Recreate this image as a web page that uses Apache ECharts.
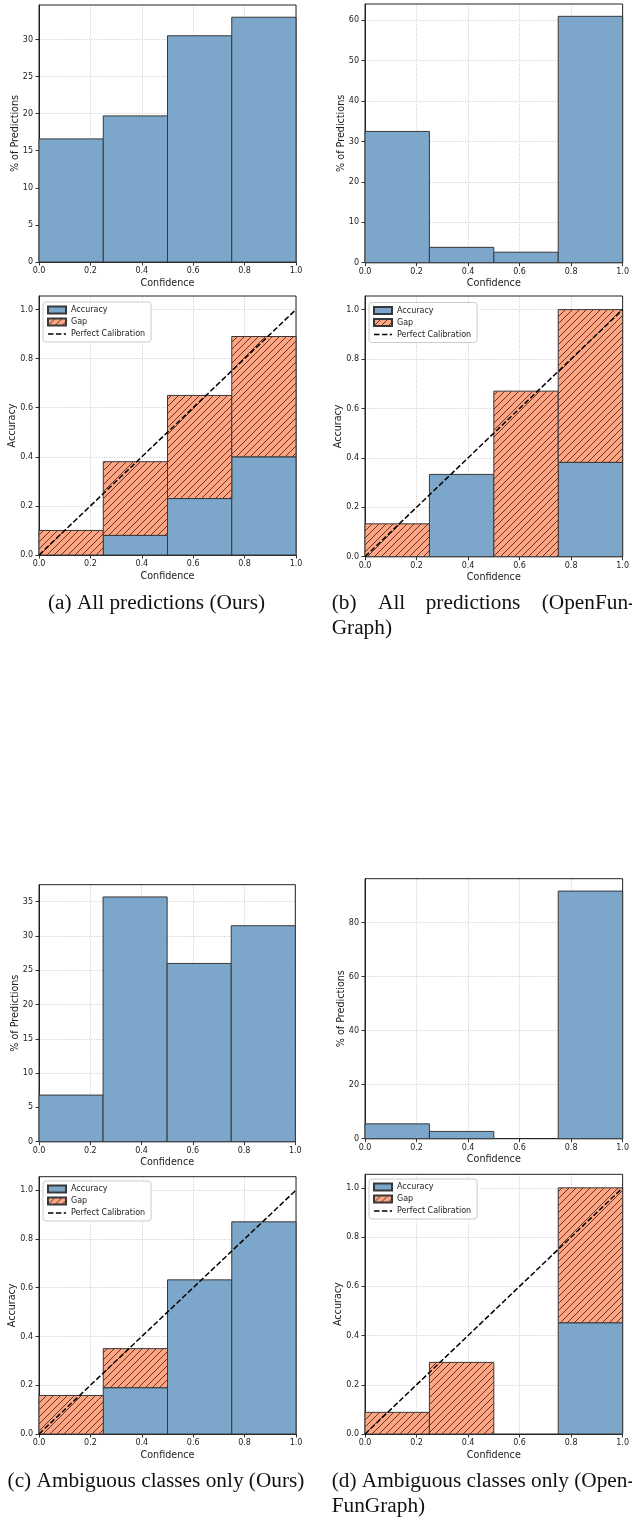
<!DOCTYPE html>
<html>
<head>
<meta charset="utf-8">
<script src="https://cdn.jsdelivr.net/npm/echarts@6/dist/echarts.min.js"></script>
<style>
html,body{margin:0;padding:0;background:#fff;}
#chart{width:632px;height:1517px;}
</style>
</head>
<body>
<div id="chart"></div>
<script>
// ---------- data ----------
const binEdges = [0, 0.25, 0.5, 0.75, 1.0];
const xTicks = [0, 0.2, 0.4, 0.6, 0.8, 1.0];

// % of predictions per confidence bin
const histOursAll = [16.6, 19.7, 30.5, 33.0];
const histOFGAll  = [32.5, 3.8, 2.6, 61.0];
const histOursAmb = [6.8, 35.7, 26.0, 31.5];
const histOFGAmb  = [5.5, 2.7, 0, 91.7];

// y tick values of the histograms
const histTicksOursAll = [0, 5, 10, 15, 20, 25, 30];
const histTicksOFGAll  = [0, 10, 20, 30, 40, 50, 60];
const histTicksOursAmb = [0, 5, 10, 15, 20, 25, 30, 35];
const histTicksOFGAmb  = [0, 20, 40, 60, 80];
const relTicks = [0, 0.2, 0.4, 0.6, 0.8, 1.0];

// reliability: accuracy and gap top (confidence) per bin
const accOursAll    = [0, 0.08, 0.23, 0.40];
const gapTopOursAll = [0.10, 0.38, 0.65, 0.89];
const accOFGAll     = [0, 0.333, 0, 0.382];
const gapTopOFGAll  = [0.133, null, 0.67, 1.0];
const accOursAmb    = [0, 0.19, 0.632, 0.87];
const gapTopOursAmb = [0.158, 0.35, null, null];
const accOFGAmb     = [0, 0, 0, 0.452];
const gapTopOFGAmb  = [0.088, 0.291, null, 1.0];

const diagonal = [[0, 0], [1, 1]];

const captions = {
  a: '(a) All predictions (Ours)',
  bWords: ['(b)', 'All', 'predictions', '(OpenFun-'],
  b2: 'Graph)',
  c: '(c) Ambiguous classes only (Ours)',
  d1: '(d) Ambiguous classes only (Open-',
  d2: 'FunGraph)'
};

// ---------- styles ----------
const BLUE = '#7DA7CA';
const EDGE = '#383838';
const TXT = '#222';
const FONT = 'DejaVu Sans';

function makeHatch() {
  const s = 7;
  const c = document.createElement('canvas');
  c.width = s; c.height = s;
  const ctx = c.getContext('2d');
  ctx.fillStyle = '#FFA584';
  ctx.fillRect(0, 0, s, s);
  ctx.strokeStyle = 'rgba(50,30,20,0.85)';
  ctx.lineWidth = 0.95;
  for (let k = -1; k <= 1; k++) {
    ctx.beginPath();
    ctx.moveTo(k * s, s);
    ctx.lineTo(k * s + s, 0);
    ctx.stroke();
  }
  return c;
}
const HATCH = { image: makeHatch(), repeat: 'repeat' };

// grid geometry [left, top, width, height]
const grids = [
  [39, 5, 257, 257],        // (a) hist
  [365, 4, 259, 258.7],     // (b) hist
  [39, 884.7, 256.3, 257],  // (c) hist
  [365, 878.7, 260, 260],   // (d) hist
  [39, 296, 257, 259],      // (a) rel
  [365, 296, 259, 260.7],   // (b) rel
  [39, 1176.7, 257, 257.3], // (c) rel
  [365, 1174.3, 260, 259.7] // (d) rel
];

const hists = [histOursAll, histOFGAll, histOursAmb, histOFGAmb];
const histTicks = [histTicksOursAll, histTicksOFGAll, histTicksOursAmb, histTicksOFGAmb];
const accs = [accOursAll, accOFGAll, accOursAmb, accOFGAmb];
const gapTops = [gapTopOursAll, gapTopOFGAll, gapTopOursAmb, gapTopOFGAmb];
const legendPos = [[43, 302], [369, 302.5], [43, 1181], [369, 1179]];

function rectRenderer(fill) {
  return function (params, api) {
    const p0 = api.coord([api.value(0), api.value(2)]);
    const p1 = api.coord([api.value(1), api.value(3)]);
    return {
      type: 'rect',
      shape: { x: p0[0], y: p1[1], width: p1[0] - p0[0], height: p0[1] - p1[1] },
      style: { fill: fill, stroke: EDGE, lineWidth: 1 }
    };
  };
}

const GRIDLINE = { show: true, lineStyle: { color: '#bdbdbd', type: [1, 1.5], width: 0.8 } };
const gridOpt = [], xAxes = [], yAxes = [], series = [], legends = [];

grids.forEach((g, i) => {
  gridOpt.push({ left: g[0], top: g[1], width: g[2], height: g[3], show: true,
    borderColor: '#222', borderWidth: 1, backgroundColor: 'transparent', z: 1 });
  xAxes.push({
    type: 'value', gridIndex: i, min: 0, max: 1, interval: 0.2,
    name: 'Confidence', nameLocation: 'middle', nameGap: 16, nameMoveOverlap: false,
    nameTextStyle: { fontSize: 9.6, fontFamily: FONT, color: TXT },
    axisLine: { show: true, lineStyle: { color: '#222', width: 1 } },
    axisTick: { show: true, length: 3.5, lineStyle: { color: '#333' }, customValues: xTicks },
    axisLabel: { fontSize: 8, fontFamily: FONT, color: TXT, margin: 5, customValues: xTicks,
      formatter: v => v.toFixed(1) },
    splitLine: GRIDLINE
  });
  const isHist = i < 4;
  const k = i % 4;
  let ymax, ticks, digits, name, gap;
  if (isHist) {
    ymax = Math.max.apply(null, hists[k]) * 1.05;
    ticks = histTicks[k]; digits = 0; name = '% of Predictions'; gap = 19;
  } else {
    ymax = 1.055; ticks = relTicks; digits = 1; name = 'Accuracy'; gap = 22;
  }
  yAxes.push({
    type: 'value', gridIndex: i, min: 0, max: ymax, interval: ticks[1] - ticks[0],
    name: name, nameLocation: 'middle', nameGap: gap, nameMoveOverlap: false,
    nameTextStyle: { fontSize: 9.6, fontFamily: FONT, color: TXT },
    axisLine: { show: true, lineStyle: { color: '#222', width: 1 } },
    axisTick: { show: true, length: 3.5, lineStyle: { color: '#333' }, customValues: ticks },
    axisLabel: { fontSize: 8, fontFamily: FONT, color: TXT, margin: 6, customValues: ticks,
      formatter: (v) => digits ? v.toFixed(digits) : String(Math.round(v)) },
    splitLine: GRIDLINE
  });

  if (isHist) {
    const data = [];
    hists[k].forEach((v, b) => { if (v > 0) data.push([binEdges[b], binEdges[b + 1], 0, v]); });
    series.push({
      type: 'custom', name: 'hist' + k, xAxisIndex: i, yAxisIndex: i, z: 3,
      renderItem: rectRenderer(BLUE), encode: { x: [0, 1], y: [2, 3] },
      itemStyle: { color: BLUE, borderColor: EDGE, borderWidth: 1 },
      data: data
    });
  } else {
    const accData = [], gapData = [];
    accs[k].forEach((v, b) => { if (v > 0) accData.push([binEdges[b], binEdges[b + 1], 0, v]); });
    gapTops[k].forEach((t, b) => {
      if (t !== null && t > accs[k][b]) gapData.push([binEdges[b], binEdges[b + 1], accs[k][b], t]);
    });
    series.push({
      type: 'custom', name: 'Accuracy', xAxisIndex: i, yAxisIndex: i, z: 3,
      renderItem: rectRenderer(BLUE), encode: { x: [0, 1], y: [2, 3] },
      itemStyle: { color: BLUE, borderColor: EDGE, borderWidth: 1 },
      data: accData
    });
    series.push({
      type: 'custom', name: 'Gap', xAxisIndex: i, yAxisIndex: i, z: 3,
      renderItem: rectRenderer(HATCH), encode: { x: [0, 1], y: [2, 3] },
      itemStyle: { color: HATCH, borderColor: EDGE, borderWidth: 1 },
      data: gapData
    });
    series.push({
      type: 'line', name: 'Perfect Calibration', xAxisIndex: i, yAxisIndex: i, z: 5,
      symbol: 'none', showSymbol: false, silent: true,
      lineStyle: { color: '#000', width: 1.5, type: [5.5, 2.4] },
      itemStyle: { color: '#000' },
      data: diagonal
    });
    legends.push({
      orient: 'vertical', left: legendPos[k][0], top: legendPos[k][1],
      padding: [3, 6, 3, 4], itemWidth: 18, itemHeight: 7, itemGap: 2,
      backgroundColor: '#fff', borderColor: '#cccccc', borderWidth: 1, borderRadius: 3,
      textStyle: { fontSize: 8, fontFamily: FONT, color: TXT, lineHeight: 10 },
      selectedMode: false, z: 10,
      data: [
        { name: 'Accuracy', icon: 'rect' },
        { name: 'Gap', icon: 'rect' },
        { name: 'Perfect Calibration', itemStyle: { opacity: 0 },
          lineStyle: { color: '#000', width: 1.6, type: [5.5, 2.4], opacity: 1 } }
      ]
    });
  }
});

const capStyle = { fontSize: 21.3, fontFamily: 'Liberation Serif', fill: '#111', verticalAlign: 'middle' };
function cap(text, x, y, align) {
  return { type: 'text', x: x, y: y, style: Object.assign({ text: text, align: align || 'left' }, capStyle) };
}
const bX = [331.7, 378, 425.7, 541.7];
const graphics = [
  cap(captions.a, 156.5, 603, 'center'),
  cap(captions.bWords[0], bX[0], 603),
  cap(captions.bWords[1], bX[1], 603),
  cap(captions.bWords[2], bX[2], 603),
  cap(captions.bWords[3], bX[3], 603),
  cap(captions.b2, bX[0], 628),
  cap(captions.c, 156, 1481.7, 'center'),
  cap(captions.d1, 331.7, 1481.7),
  cap(captions.d2, 331.7, 1506.7)
];

const chart = echarts.init(document.getElementById('chart'), null, { renderer: 'canvas' });
chart.setOption({
  animation: false,
  backgroundColor: '#fff',
  grid: gridOpt,
  xAxis: xAxes,
  yAxis: yAxes,
  legend: legends,
  series: series,
  graphic: graphics
});
</script>
</body>
</html>
